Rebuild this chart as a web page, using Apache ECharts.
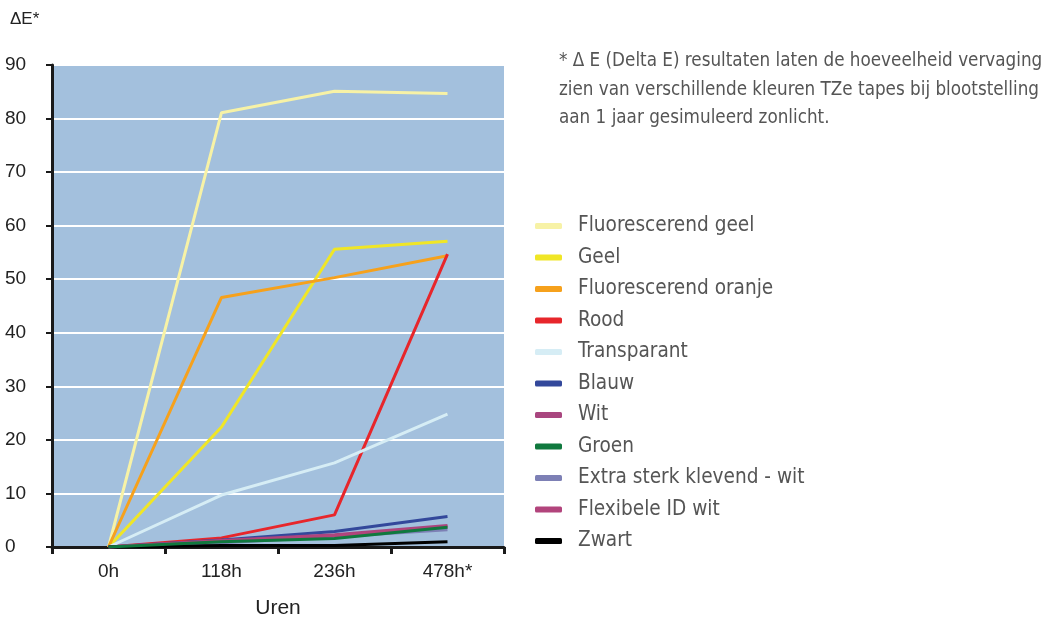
<!DOCTYPE html>
<html>
<head>
<meta charset="utf-8">
<script src="https://cdn.jsdelivr.net/npm/echarts@6/dist/echarts.min.js"></script>
<style>
  html, body { margin: 0; padding: 0; background: #fff; }
  #chart { width: 1048px; height: 617px; }
</style>
</head>
<body>
<div id="chart"></div>
<script>
  // data
  var categories = ['0h', '118h', '236h', '478h*'];
  var seriesNames = [
    'Fluorescerend geel', 'Geel', 'Fluorescerend oranje', 'Rood', 'Transparant',
    'Blauw', 'Wit', 'Groen', 'Extra sterk klevend - wit', 'Flexibele ID wit', 'Zwart'
  ];
  var fluorGeel = [0, 81.1, 85.1, 84.7];
  var geel = [0, 22.4, 55.6, 57.1];
  var fluorOranje = [0, 46.6, 50.3, 54.4];
  var rood = [0, 1.7, 6.0, 54.7];
  var transparant = [0, 9.7, 15.7, 24.8];
  var blauw = [0, 1.3, 2.9, 5.7];
  var wit = [0, 1.2, 2.3, 4.0];
  var groen = [0, 1.0, 1.6, 3.7];
  var extraSterk = [0, 0.8, 1.9, 3.2];
  var flexibele = [0, 1.1, 2.1, 3.8];
  var zwart = [0, 0.3, 0.3, 1.0];
  var yTicks = [0, 10, 20, 30, 40, 50, 60, 70, 80, 90];

  var values = [fluorGeel, geel, fluorOranje, rood, transparant, blauw, wit, groen, extraSterk, flexibele, zwart];
  var colors = ['#f7f2a6', '#f0e626', '#f6a11c', '#e7262b', '#d6edf5', '#33489b', '#a9467f', '#10793e', '#7d80b5', '#b2447c', '#000000'];

  var narrow = "'DejaVu Sans Condensed', 'Liberation Sans Narrow', sans-serif";
  var chart = echarts.init(document.getElementById('chart'));

  var series = seriesNames.map(function (name, i) {
    return {
      name: name,
      type: 'line',
      data: values[i],
      symbol: 'none',
      z: name === 'Groen' ? 4 : 3,
      color: colors[i],
      lineStyle: { width: 3, color: colors[i] }
    };
  });

  chart.setOption({
    animation: false,
    textStyle: { fontFamily: "'Liberation Sans', Arial, sans-serif" },
    grid: {
      left: 52,
      right: 544,
      top: 65,
      bottom: 70,
      outerBoundsMode: 'none',
      show: true,
      backgroundColor: '#a3c0dd',
      borderWidth: 0
    },
    graphic: [{
      type: 'text',
      left: 559,
      top: 47,
      style: {
        text: '* \u0394 E (Delta E) resultaten laten de hoeveelheid vervaging\nzien van verschillende kleuren TZe tapes bij blootstelling\naan 1 jaar gesimuleerd zonlicht.',
        font: '18.7px ' + narrow,
        fill: '#555555',
        lineHeight: 28.5
      }
    }],
    legend: {
      orient: 'vertical',
      left: 530,
      top: 210,
      icon: 'roundRect',
      itemWidth: 27,
      itemHeight: 6,
      itemGap: 9.5,
      data: seriesNames,
      textStyle: {
        fontFamily: narrow,
        fontSize: 20.6,
        lineHeight: 22,
        color: '#555555',
        padding: [0, 0, 0, 11]
      }
    },
    xAxis: {
      type: 'category',
      data: categories,
      boundaryGap: true,
      name: 'Uren',
      nameLocation: 'middle',
      nameGap: 51,
      nameTextStyle: { fontSize: 21, color: '#222' },
      axisLine: { lineStyle: { color: '#1a1a1a', width: 3 } },
      axisTick: { show: true, length: 7, lineStyle: { color: '#1a1a1a', width: 3 } },
      axisLabel: { fontSize: 19, color: '#222', margin: 15 }
    },
    yAxis: {
      type: 'value',
      min: yTicks[0],
      max: yTicks[yTicks.length - 1],
      interval: 10,
      name: '\u0394E*',
      nameLocation: 'end',
      nameGap: 37,
      nameTextStyle: { fontSize: 17, color: '#222', align: 'left', padding: [0, 0, 0, -42] },
      axisLine: { show: true, lineStyle: { color: '#1a1a1a', width: 3 } },
      axisTick: { show: true, length: 6, lineStyle: { color: '#1a1a1a', width: 2 } },
      axisLabel: { fontSize: 19, color: '#222', margin: 24, align: 'left', padding: [0, 0, 0, -23] },
      splitLine: { show: true, lineStyle: { color: '#ffffff', width: 2 } }
    },
    series: series
  });
</script>
</body>
</html>
